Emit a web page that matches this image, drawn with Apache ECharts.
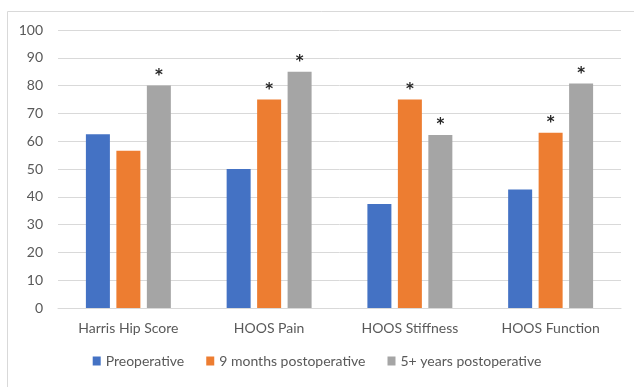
<!DOCTYPE html>
<html>
<head>
<meta charset="utf-8">
<script src="https://cdn.jsdelivr.net/npm/echarts@6/dist/echarts.min.js"></script>
<style>
  html, body { margin: 0; padding: 0; background: #fff; }
  #chart { width: 634px; height: 387px; }
</style>
</head>
<body>
<div id="chart"></div>
<script>
var categories = ['Harris Hip Score', 'HOOS Pain', 'HOOS Stiffness', 'HOOS Function'];
var preop = [62.5, 50, 37.4, 42.6];
var months9 = [56.6, 75, 75, 63];
var years5 = [80, 85, 62.2, 80.8];
// significance markers (asterisk above bar)
var sig9 = [false, true, true, true];
var sig5 = [true, true, true, true];

var font = 'Lato, "Open Sans", sans-serif';

function starLabel(flags) {
  return {
    show: true,
    position: 'top',
    distance: 2,
    color: '#262626',
    fontSize: 15,
    fontWeight: 'bold',
    fontFamily: '"DejaVu Sans", sans-serif',
    formatter: function (p) { return flags[p.dataIndex] ? '*' : ''; }
  };
}

var option = {
  animation: false,
  textStyle: { fontFamily: font },
  graphic: [{
    type: 'rect',
    shape: { x: 7.5, y: 11.5, width: 640, height: 390 },
    style: { fill: 'none', stroke: '#d9d9d9', lineWidth: 1 },
    silent: true
  }],
  grid: { left: 58, right: 13, top: 30, bottom: 79 },
  legend: {
    bottom: 14,
    left: 'center',
    itemWidth: 8,
    itemHeight: 9,
    itemGap: 22,
    icon: 'rect',
    textStyle: { color: '#595959', fontSize: 14, fontFamily: font },
    data: ['Preoperative', '9 months postoperative', '5+ years postoperative']
  },
  xAxis: {
    type: 'category',
    data: categories,
    axisLine: { lineStyle: { color: '#d9d9d9' } },
    axisTick: { show: false },
    axisLabel: { color: '#595959', fontSize: 14, margin: 13, fontFamily: font }
  },
  yAxis: {
    type: 'value',
    min: 0,
    max: 100,
    interval: 10,
    axisLine: { show: false },
    axisTick: { show: false },
    axisLabel: { color: '#595959', fontSize: 14, margin: 15, fontFamily: font },
    splitLine: { lineStyle: { color: '#d9d9d9' } }
  },
  series: [
    {
      name: 'Preoperative',
      type: 'bar',
      data: preop,
      barWidth: 24,
      barGap: '27%',
      itemStyle: { color: '#4472c4' }
    },
    {
      name: '9 months postoperative',
      type: 'bar',
      data: months9,
      barWidth: 24,
      itemStyle: { color: '#ed7d31' },
      label: starLabel(sig9)
    },
    {
      name: '5+ years postoperative',
      type: 'bar',
      data: years5,
      barWidth: 24,
      itemStyle: { color: '#a5a5a5' },
      label: starLabel(sig5)
    }
  ]
};

var myChart = echarts.init(document.getElementById('chart'));
myChart.setOption(option);
</script>
</body>
</html>
